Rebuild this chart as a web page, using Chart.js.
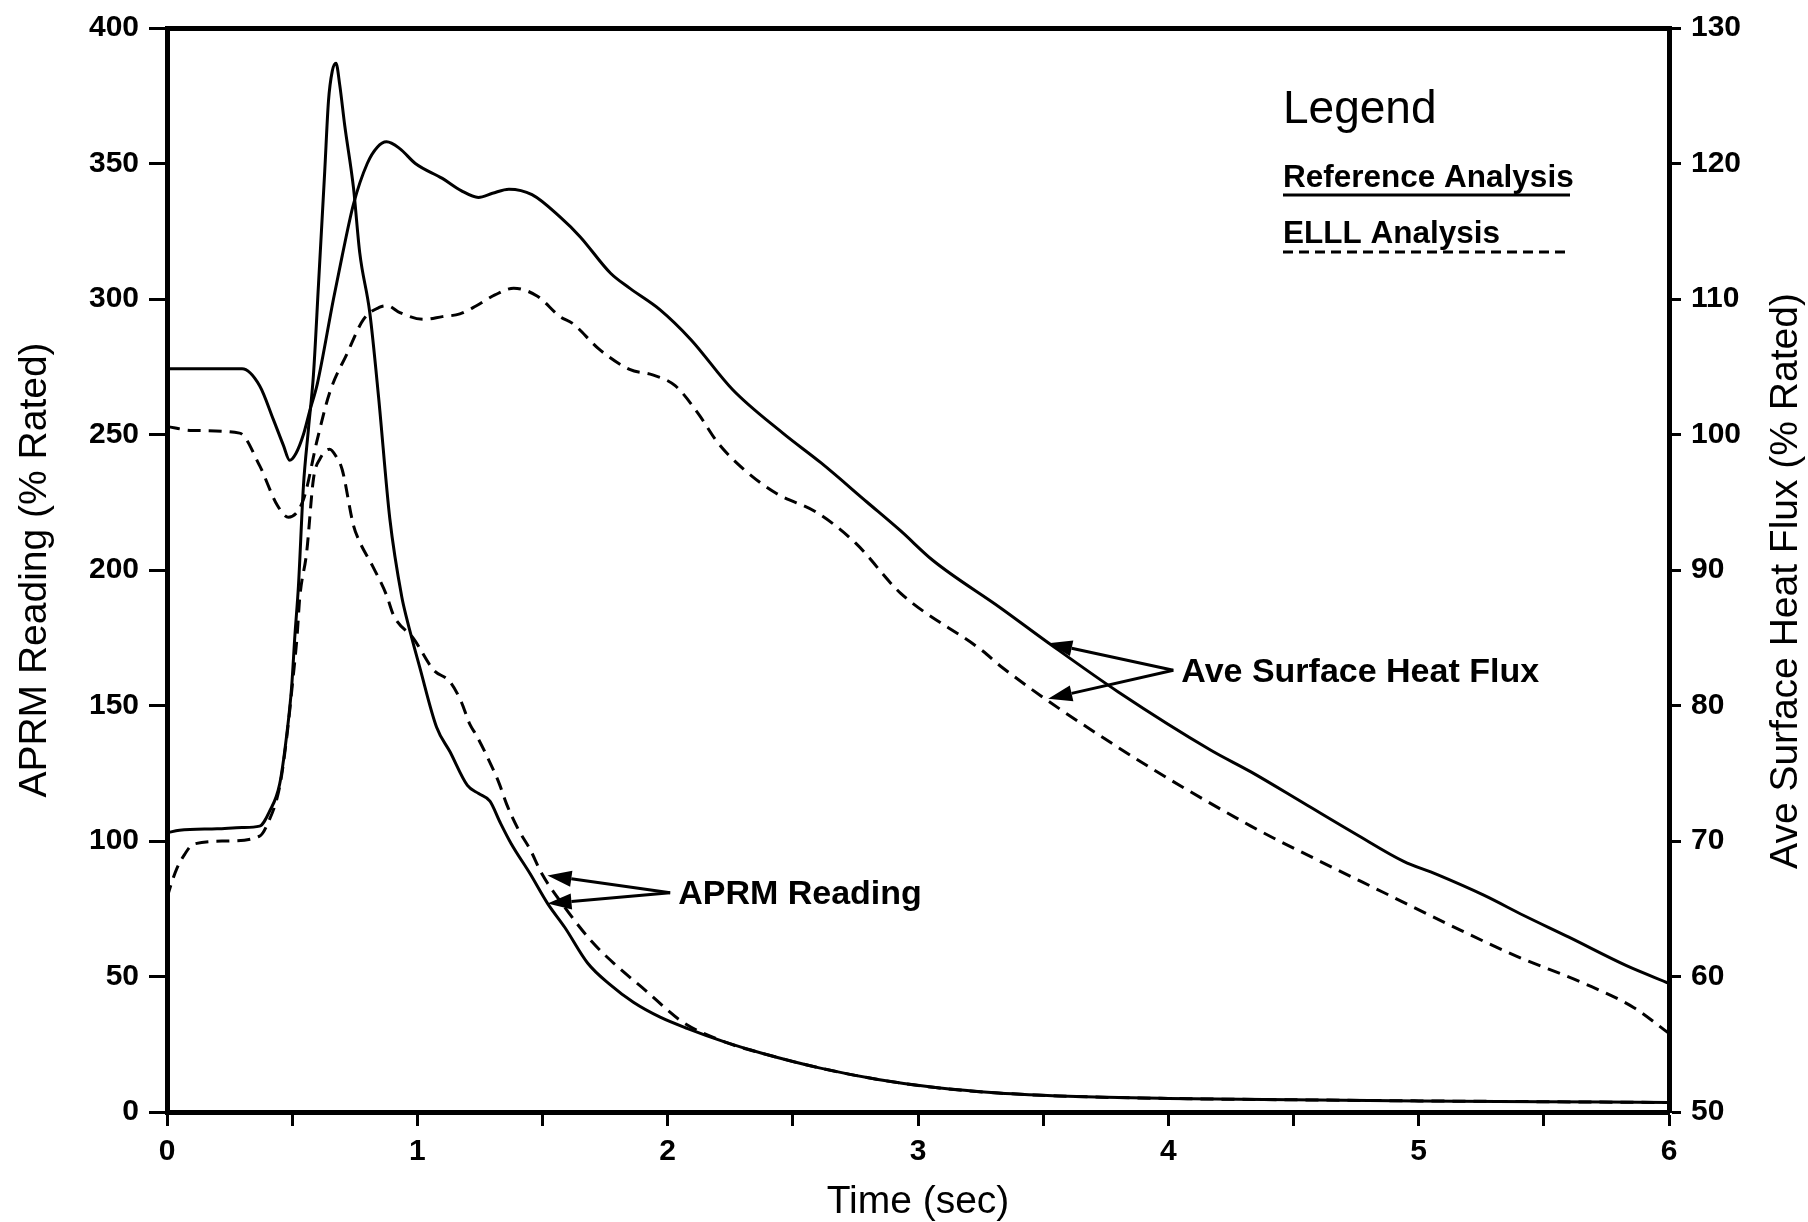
<!DOCTYPE html>
<html>
<head>
<meta charset="utf-8">
<title>APRM Reading / Ave Surface Heat Flux</title>
<script src="https://cdn.jsdelivr.net/npm/chart.js@4.4.1/dist/chart.umd.min.js"></script>
<style>
  html, body { margin: 0; padding: 0; background: #fff; }
</style>
</head>
<body>
<canvas id="myChart" width="1808" height="1222"></canvas>
<script>
// ***** values *****
// APRM reading (% rated), left axis
const refAprmTime = [0, 0.05, 0.2, 0.3, 0.37, 0.41, 0.45, 0.478, 0.498, 0.511, 0.525, 0.545, 0.565, 0.585, 0.605, 0.63, 0.645, 0.66, 0.675, 0.69, 0.71, 0.745, 0.77, 0.81, 0.845, 0.89, 0.938, 0.958, 1.01, 1.077, 1.13, 1.2, 1.245, 1.29, 1.33, 1.375, 1.45, 1.52, 1.59, 1.68, 1.77, 1.863, 1.97, 2.08, 2.23, 2.38, 2.61, 2.84, 3.07, 3.32, 3.6, 4.0, 4.5, 5.0, 5.5, 6.0];
const refAprm     = [103, 104, 104.5, 105, 105.5, 111, 121, 139, 157, 176, 194, 231, 252, 272, 305, 347, 373, 384, 387, 379, 364, 341, 317, 295, 264, 219, 190, 182, 164, 142, 133, 120.5, 117.5, 114.7, 107, 99, 88, 77, 68, 55, 47, 40.5, 35, 30.8, 25.8, 21.6, 16.2, 12, 9, 7, 5.8, 5, 4.5, 4.1, 3.8, 3.5];

const elllAprmTime = [0, 0.02, 0.04, 0.07, 0.105, 0.24, 0.37, 0.4, 0.45, 0.478, 0.5, 0.52, 0.53, 0.558, 0.585, 0.611, 0.65, 0.675, 0.7, 0.745, 0.77, 0.82, 0.877, 0.905, 0.985, 1.065, 1.13, 1.175, 1.21, 1.236, 1.3, 1.328, 1.357, 1.405, 1.45, 1.497, 1.589, 1.696, 1.787, 1.91, 2.06, 2.23, 2.38, 2.61, 2.84, 3.07, 3.32, 3.6, 4.0, 4.5, 5.0, 5.5, 6.0];
const elllAprm     = [79, 85, 90, 95, 98.8, 100, 101.8, 106, 120, 138, 157, 176, 189.5, 206.6, 233.6, 241, 244.6, 242, 237, 216.4, 210.3, 201.7, 190.7, 183.3, 174.7, 163.1, 158.8, 151.5, 143, 139, 127, 121, 113.5, 104, 97, 88, 75.5, 63, 54.7, 45, 33.2, 25.8, 21.6, 16.2, 12, 9, 7, 5.8, 5, 4.5, 4.1, 3.8, 3.5];

// Ave surface heat flux (% rated), right axis
const refFluxTime = [0, 0.3, 0.37, 0.425, 0.465, 0.49, 0.515, 0.545, 0.571, 0.6, 0.665, 0.7, 0.745, 0.8, 0.84, 0.877, 0.93, 0.992, 1.1, 1.175, 1.244, 1.3, 1.366, 1.458, 1.573, 1.65, 1.772, 1.848, 1.97, 2.093, 2.26, 2.46, 2.613, 2.797, 2.93, 3.06, 3.33, 3.53, 3.8, 4.17, 4.33, 4.54, 4.75, 4.94, 5.07, 5.26, 5.42, 5.6, 5.83, 6.0];
const refFlux     = [104.85, 104.85, 103.6, 101.1, 99.2, 98.1, 98.6, 100, 101.8, 103.7, 110, 113.2, 117, 120, 121.2, 121.6, 121.1, 120, 118.9, 118, 117.5, 117.8, 118.1, 117.7, 116, 114.6, 111.9, 110.8, 109.2, 107, 103.3, 100.1, 97.9, 95, 92.9, 90.7, 87.2, 84.5, 81, 76.7, 75.1, 72.8, 70.5, 68.5, 67.55, 66, 64.5, 62.9, 60.8, 59.5];

const elllFluxTime = [0, 0.1, 0.29, 0.37, 0.44, 0.485, 0.545, 0.6, 0.65, 0.72, 0.785, 0.85, 0.88, 0.93, 1.025, 1.1, 1.17, 1.236, 1.31, 1.385, 1.48, 1.57, 1.62, 1.726, 1.848, 1.94, 2.03, 2.12, 2.2, 2.306, 2.43, 2.6, 2.75, 2.93, 3.26, 3.33, 3.8, 4.33, 4.59, 4.86, 5.13, 5.39, 5.66, 5.86, 6.0];
const elllFlux     = [100.6, 100.3, 100.1, 97.7, 94.8, 93.9, 95.2, 99.6, 103.1, 106, 108.5, 109.4, 109.5, 109, 108.5, 108.7, 108.9, 109.5, 110.3, 110.8, 110.2, 108.7, 108.2, 106.3, 104.8, 104.4, 103.6, 101.6, 99.4, 97.4, 95.7, 94.2, 92, 88.3, 84, 82.9, 76.9, 71.1, 68.65, 66.2, 63.75, 61.5, 59.5, 57.7, 55.8];

// axis ranges
const timeRange = [0, 6];
const aprmRange = [0, 400];
const fluxRange = [50, 130];

// arrow notes: [time, value] of label point and of the two arrow tips
const fluxNoteText = 'Ave Surface Heat Flux';
const fluxNoteFrom = [4.02, 82.6];
const fluxNoteTips = [[3.52, 84.6], [3.52, 80.5]];
const aprmNoteText = 'APRM Reading';
const aprmNoteFrom = [2.01, 80.9];
const aprmNoteTips = [[1.52, 87.3], [1.52, 76.9]];

const seriesNames = ['Reference Analysis', 'ELLL Analysis'];
const rightTitle = 'Ave Surface Heat Flux (% Rated)';

const FONT = '"Liberation Sans", Arial, Helvetica, sans-serif';

function pts(xs, ys) {
    return xs.map((x, i) => ({ x: x, y: ys[i] }));
}

function lineSet(label, xs, ys, axis, dashed) {
    return {
        label: label,
        data: pts(xs, ys),
        yAxisID: axis,
        borderColor: '#000',
        borderWidth: 3,
        borderDash: dashed ? [13, 8] : [],
        pointRadius: 0,
        fill: false,
        cubicInterpolationMode: 'monotone'
    };
}

function drawArrow(ctx, x0, y0, x1, y1) {
    const a = Math.atan2(y1 - y0, x1 - x0);
    const len = 24, half = 8;
    const bx = x1 - len * Math.cos(a), by = y1 - len * Math.sin(a);
    ctx.beginPath();
    ctx.moveTo(x0, y0);
    ctx.lineTo(bx, by);
    ctx.stroke();
    ctx.beginPath();
    ctx.moveTo(x1, y1);
    ctx.lineTo(bx + half * Math.sin(a), by - half * Math.cos(a));
    ctx.lineTo(bx - half * Math.sin(a), by + half * Math.cos(a));
    ctx.closePath();
    ctx.fill();
}

function drawNote(ctx, sx, sy, from, tips, text) {
    const x0 = sx.getPixelForValue(from[0]);
    const y0 = sy.getPixelForValue(from[1]);
    ctx.lineWidth = 3;
    ctx.setLineDash([]);
    tips.forEach(t => drawArrow(ctx, x0, y0, sx.getPixelForValue(t[0]), sy.getPixelForValue(t[1])));
    ctx.font = 'bold 34px ' + FONT;
    ctx.textAlign = 'left';
    ctx.textBaseline = 'middle';
    ctx.fillText(text, x0 + 8, y0 + 2);
}

// ***** arrows, labels, right axis title and the "Legend" box *****
const notesPlugin = {
    id: 'notes',
    afterDraw(chart) {
        const ctx = chart.ctx;
        const area = chart.chartArea;
        const sx = chart.scales.x;
        ctx.save();
        ctx.fillStyle = '#000';
        ctx.strokeStyle = '#000';
        drawNote(ctx, sx, chart.scales.y2, fluxNoteFrom, fluxNoteTips, fluxNoteText);
        drawNote(ctx, sx, chart.scales.y, aprmNoteFrom, aprmNoteTips, aprmNoteText);

        // right title reads bottom-to-top like the left one
        ctx.save();
        ctx.translate(chart.scales.y2.right - 22, (area.top + area.bottom) / 2 + 11);
        ctx.rotate(-Math.PI / 2);
        ctx.font = '39px ' + FONT;
        ctx.textAlign = 'center';
        ctx.textBaseline = 'middle';
        ctx.fillText(rightTitle, 0, 0);
        ctx.restore();

        const left = area.right - 386;
        const right = area.right - 99;
        ctx.textAlign = 'left';
        ctx.textBaseline = 'alphabetic';
        ctx.font = '46px ' + FONT;
        ctx.fillText('Legend', left, area.top + 95);

        ctx.font = 'bold 31.5px ' + FONT;
        ctx.fillText(seriesNames[0], left, area.top + 159);
        ctx.fillText(seriesNames[1], left, area.top + 215);

        ctx.lineWidth = 3;
        ctx.setLineDash([]);
        ctx.beginPath();
        ctx.moveTo(left, area.top + 167);
        ctx.lineTo(right, area.top + 167);
        ctx.stroke();

        ctx.setLineDash([10, 6]);
        ctx.beginPath();
        ctx.moveTo(left, area.top + 224);
        ctx.lineTo(right, area.top + 224);
        ctx.stroke();
        ctx.restore();
    }
};

const tickFont = { family: FONT, size: 30, weight: 'bold' };
const titleFont = { family: FONT, size: 39, lineHeight: 1 };

var ctx = document.getElementById('myChart').getContext('2d');
var chart = new Chart(ctx, {
    type: 'line',
    data: {
        datasets: [
            lineSet(seriesNames[0] + ' - APRM', refAprmTime, refAprm, 'y', false),
            lineSet(seriesNames[1] + ' - APRM', elllAprmTime, elllAprm, 'y', true),
            lineSet(seriesNames[0] + ' - Heat Flux', refFluxTime, refFlux, 'y2', false),
            lineSet(seriesNames[1] + ' - Heat Flux', elllFluxTime, elllFlux, 'y2', true)
        ]
    },
    options: {
        responsive: false,
        devicePixelRatio: 1,
        animation: false,
        layout: { padding: { top: 23, left: 0, right: 0, bottom: 0 } },
        plugins: {
            legend: { display: false },
            tooltip: { enabled: false }
        },
        scales: {
            x: {
                type: 'linear',
                position: 'bottom',
                min: timeRange[0],
                max: timeRange[1],
                afterFit: s => { s.height = 110; },
                border: { display: true, width: 5, color: '#000' },
                grid: { drawOnChartArea: false, drawTicks: true, tickLength: 14, tickWidth: 3, tickColor: '#000' },
                ticks: {
                    stepSize: 0.5,
                    autoSkip: false,
                    maxRotation: 0,
                    padding: 8,
                    color: '#000',
                    font: tickFont,
                    callback: v => Number.isInteger(v) ? String(v) : ''
                },
                title: { display: true, text: 'Time (sec)', color: '#000', font: titleFont, padding: { top: 0, bottom: 0 } }
            },
            xTop: {
                type: 'linear',
                position: 'top',
                min: timeRange[0],
                max: timeRange[1],
                afterFit: s => { s.height = 0; },
                border: { display: true, width: 5, color: '#000' },
                grid: { drawOnChartArea: false, drawTicks: false },
                ticks: { display: false }
            },
            y: {
                type: 'linear',
                position: 'left',
                min: aprmRange[0],
                max: aprmRange[1],
                afterFit: s => { s.width = 167; },
                border: { display: true, width: 5, color: '#000' },
                grid: { drawOnChartArea: false, drawTicks: true, tickLength: 18, tickWidth: 3, tickColor: '#000' },
                ticks: { stepSize: 50, padding: 10, color: '#000', font: tickFont },
                title: { display: true, text: 'APRM Reading (% Rated)', color: '#000', font: titleFont, padding: { top: 16, bottom: 0 } }
            },
            y2: {
                type: 'linear',
                position: 'right',
                min: fluxRange[0],
                max: fluxRange[1],
                afterFit: s => { s.width = 139; },
                border: { display: true, width: 5, color: '#000' },
                grid: { drawOnChartArea: false, drawTicks: true, tickLength: 12, tickWidth: 3, tickColor: '#000' },
                ticks: { stepSize: 10, padding: 10, color: '#000', font: tickFont },
                title: { display: false }
            }
        }
    },
    plugins: [notesPlugin]
});
</script>
</body>
</html>
